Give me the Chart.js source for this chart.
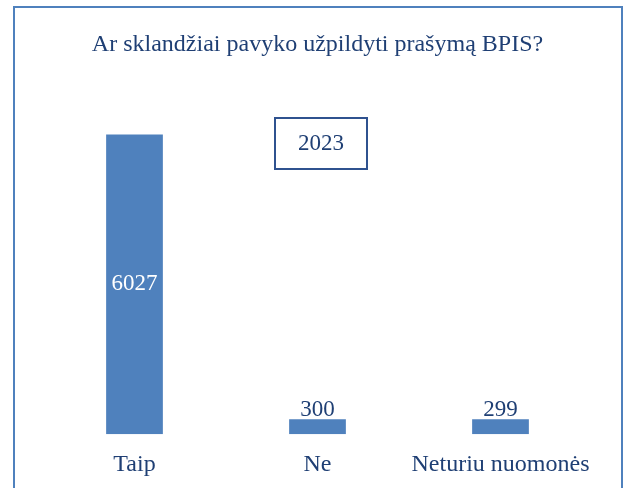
<!DOCTYPE html>
<html>
<head>
<meta charset="utf-8">
<script src="https://cdn.jsdelivr.net/npm/chart.js@4"></script>
<style>
  html, body { margin: 0; padding: 0; background: #fff; overflow: hidden; }
  #frame {
    position: absolute; left: 13px; top: 6px;
    width: 606px; height: 500px;
    border: 2px solid #4f81bd; border-bottom: none;
    overflow: hidden;
  }
  #chart { display: block; }
</style>
</head>
<body>
<div id="frame"><canvas id="chart" width="606" height="490"></canvas></div>
<script>
const categories = ['Taip', 'Ne', 'Neturiu nuomonės'];
const values = [6027, 300, 299];
const seriesName = '2023';

const textColor = '#1f3f74';
const barColor = '#4f81bd';
const serif = "'Liberation Serif', 'Times New Roman', serif";

// numbers on the bars: big one inside, small ones on top
const barLabels = {
    id: 'barLabels',
    afterDatasetsDraw(chart) {
        const c = chart.ctx;
        const meta = chart.getDatasetMeta(0);
        c.save();
        c.font = '23px ' + serif;
        c.textAlign = 'center';
        meta.data.forEach((bar, i) => {
            const h = bar.base - bar.y;
            if (h > 40) {
                c.fillStyle = '#ffffff';
                c.textBaseline = 'middle';
                c.fillText(values[i], bar.x, (bar.y + bar.base) / 2);
            } else {
                c.fillStyle = textColor;
                c.textBaseline = 'bottom';
                c.fillText(values[i], bar.x, bar.y + 2);
            }
        });
        c.restore();
    }
};

// boxed series name
const seriesBox = {
    id: 'seriesBox',
    afterDraw(chart) {
        const c = chart.ctx;
        c.save();
        c.strokeStyle = '#2f528f';
        c.lineWidth = 2;
        c.strokeRect(260, 110, 92, 51);
        c.fillStyle = textColor;
        c.font = '23px ' + serif;
        c.textAlign = 'center';
        c.textBaseline = 'middle';
        c.fillText(seriesName, 306, 136);
        c.restore();
    }
};

new Chart(document.getElementById('chart'), {
    type: 'bar',
    data: {
        labels: categories,
        datasets: [{
            label: seriesName,
            data: values,
            backgroundColor: barColor,
            borderWidth: 0,
            barPercentage: 0.31,
            categoryPercentage: 1
        }]
    },
    options: {
        responsive: false,
        animation: false,
        layout: { padding: { left: 28, right: 29, top: 0, bottom: 3 } },
        plugins: {
            legend: { display: false },
            tooltip: { enabled: false },
            title: {
                display: true,
                text: 'Ar sklandžiai pavyko užpildyti prašymą BPIS?',
                color: textColor,
                font: { family: serif, size: 24, weight: 'normal' },
                padding: { top: 22, bottom: 29 }
            }
        },
        scales: {
            x: {
                grid: { display: false, drawTicks: false },
                border: { display: false },
                ticks: {
                    color: textColor,
                    font: { family: serif, size: 24 },
                    padding: 16,
                    minRotation: 0,
                    maxRotation: 0,
                    autoSkip: false
                }
            },
            y: {
                display: false,
                min: 0,
                max: 6965
            }
        }
    },
    plugins: [barLabels, seriesBox]
});
</script>
</body>
</html>
